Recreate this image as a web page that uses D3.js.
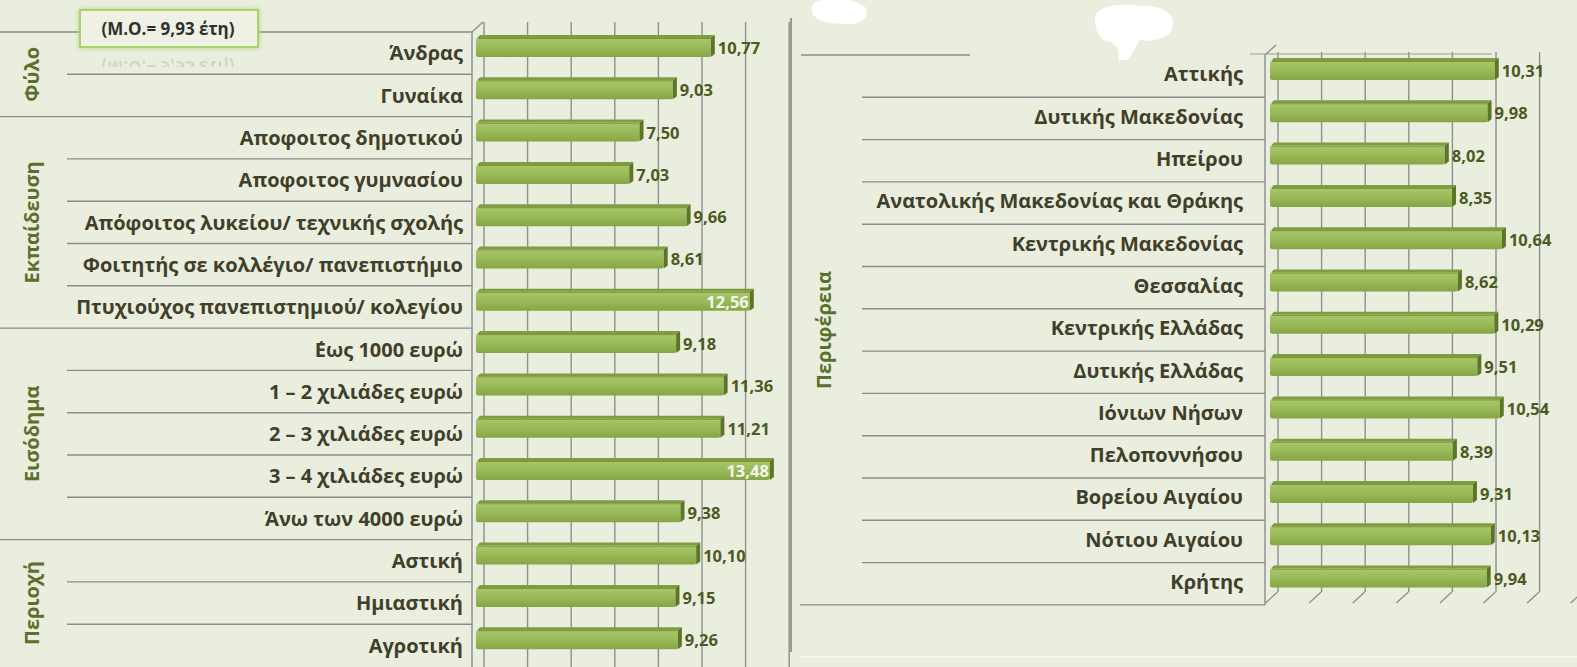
<!DOCTYPE html>
<html><head><meta charset="utf-8">
<script src="https://cdn.jsdelivr.net/npm/d3@7"></script>
<style>
html,body{margin:0;padding:0;background:#eaeede;}
svg{display:block;}
</style></head>
<body>
<svg id="chart" width="1577" height="667"></svg>
<script>
// ---------------- DATA ----------------
const leftCategories = [
  "Άνδρας","Γυναίκα",
  "Αποφοιτος δημοτικού","Αποφοιτος γυμνασίου","Απόφοιτος λυκείου/ τεχνικής σχολής",
  "Φοιτητής σε κολλέγιο/ πανεπιστήμιο","Πτυχιούχος πανεπιστημιού/ κολεγίου",
  "΄Εως 1000 ευρώ","1 – 2 χιλιάδες ευρώ","2 – 3 χιλιάδες ευρώ","3 – 4 χιλιάδες ευρώ","Άνω των 4000 ευρώ",
  "Αστική","Ημιαστική","Αγροτική"
];
const leftValues = [10.77, 9.03, 7.50, 7.03, 9.66, 8.61, 12.56, 9.18, 11.36, 11.21, 13.48, 9.38, 10.10, 9.15, 9.26];
const leftGroupNames = ["Φύλο","Εκπαίδευση","Εισόδημα","Περιοχή"];
const leftGroupSizes = [2, 5, 5, 3];

const rightCategories = [
  "Αττικής","Δυτικής Μακεδονίας","Ηπείρου","Ανατολικής Μακεδονίας και Θράκης",
  "Κεντρικής Μακεδονίας","Θεσσαλίας","Κεντρικής Ελλάδας","Δυτικής Ελλάδας",
  "Ιόνιων Νήσων ","Πελοποννήσου","Βορείου Αιγαίου","Νότιου Αιγαίου","Κρήτης"
];
const rightValues = [10.31, 9.98, 8.02, 8.35, 10.64, 8.62, 10.29, 9.51, 10.54, 8.39, 9.31, 10.13, 9.94];
const rightGroupName = "Περιφέρεια";

const xTicks = [0, 2, 4, 6, 8, 10, 12, 14];
const meanText = "(Μ.Ο.= 9,93 έτη)";
const insideThreshold = 12;

// ---------------- SETUP ----------------
const svg = d3.select("#chart");
const FONT = "'Open Sans', 'Noto Sans', sans-serif";
const fmt = v => d3.format(".2f")(v).replace(".", ",");

const defs = svg.append("defs");
const grad = defs.append("linearGradient").attr("id","barGrad").attr("x1",0).attr("y1",0).attr("x2",0).attr("y2",1);
grad.append("stop").attr("offset","0%").attr("stop-color","#a9c76b");
grad.append("stop").attr("offset","55%").attr("stop-color","#98b857");
grad.append("stop").attr("offset","100%").attr("stop-color","#86a545");
const glow = defs.append("filter").attr("id","glow").attr("x","-20%").attr("y","-40%").attr("width","140%").attr("height","180%");
glow.append("feGaussianBlur").attr("in","SourceAlpha").attr("stdDeviation",2.5).attr("result","b");
glow.append("feFlood").attr("flood-color","#9fd15a").attr("flood-opacity",0.8);
glow.append("feComposite").attr("in2","b").attr("operator","in").attr("result","g");
const gm = glow.append("feMerge"); gm.append("feMergeNode").attr("in","g"); gm.append("feMergeNode").attr("in","SourceGraphic");
const clipR = defs.append("clipPath").attr("id","reflClip");
clipR.append("rect").attr("x",80).attr("y",56).attr("width",180).attr("height",11);

svg.append("rect").attr("width",1577).attr("height",667).attr("fill","#eaeede");

function drawPanel(o) {
  const g = svg.append("g");
  const y = d3.scaleBand().domain(o.categories.map((d,i)=>i)).range([o.top, o.top + o.rowH*o.categories.length]).paddingInner(0).paddingOuter(0);
  const x = d3.scaleLinear().domain([0,14]).range([o.x0, o.x0 + 14*21.8]);
  const depthX = 7.5;

  // gridlines (back wall) via axis
  const grid = g.append("g")
    .call(d3.axisBottom(x).tickValues(xTicks).tickSize(o.gridBottom - o.gridTop).tickFormat(""));
  grid.attr("transform",`translate(${depthX},${o.gridTop})`);
  grid.select(".domain").remove();
  grid.selectAll(".tick line").attr("stroke","#8f8f8f").attr("stroke-width",1.4);
  if (o.floor) {
    g.selectAll(".floor").data(xTicks).join("line")
      .attr("x1",d=>x(d)+depthX).attr("y1",o.gridBottom)
      .attr("x2",d=>x(d)+depthX-12).attr("y2",o.gridBottom+11)
      .attr("stroke","#8f8f8f").attr("stroke-width",1.3);
  }

  // row separators
  const n = o.categories.length;
  const bounds = [];
  let idx = 0;
  o.groupSizes.forEach((s)=>{ bounds.push({i:idx, group:true}); for (let k=1;k<s;k++) bounds.push({i:idx+k, group:false}); idx+=s; });
  if (o.drawBottom) bounds.push({i:n, group:true});
  bounds.forEach(b=>{
    if (o.skipTop && b.i===0) return;
    const yy = b.i===n ? y.range()[1] : y(b.i);
    g.append("line").attr("x1", b.group ? o.groupX : o.rowX).attr("x2", o.wallX)
      .attr("y1",yy).attr("y2",yy).attr("stroke","#8c8c8c").attr("stroke-width",1.4);
  });

  // wall
  g.append("line").attr("x1",o.wallX).attr("x2",o.wallX).attr("y1",o.top).attr("y2",o.wallBottom)
    .attr("stroke","#8c8c8c").attr("stroke-width",1.4);
  g.append("line").attr("x1",o.wallX).attr("y1",o.top).attr("x2",o.wallX+11).attr("y2",o.top-10)
    .attr("stroke","#8c8c8c").attr("stroke-width",1.3);

  // group labels
  let start = 0;
  o.groupNames.forEach((name,gi)=>{
    const s = o.groupSizes[gi];
    const cy = (y(start) + (start+s>=n ? y.range()[1] : y(start+s)))/2;
    g.append("text").attr("transform",`translate(${o.groupLabelX},${cy}) rotate(-90)`)
      .attr("text-anchor","middle").attr("dominant-baseline","middle")
      .attr("font-family",FONT).attr("font-weight",700).attr("font-size",20)
      .attr("fill","#5b702c").text(name);
    start += s;
  });

  // category labels
  g.selectAll(".cat").data(o.categories).join("text")
    .attr("x",o.labelRight).attr("y",(d,i)=>y(i)+y.bandwidth()/2+o.labelDy)
    .attr("text-anchor","end").attr("dominant-baseline","middle")
    .attr("font-family",FONT).attr("font-weight",700).attr("font-size",o.labelSize)
    .attr("fill","#3f3f2a").text(d=>d);

  // bars
  const bh = 19, dx = 4, dy = 3;
  const bars = g.selectAll(".bar").data(o.values).join("g");
  bars.append("path").attr("d",(d,i)=>{
    const x0=x(0), x1=x(d), yt=y(i)+6;
    return `M${x0+1},${yt} L${x0+dx},${yt-dy} L${x1+dx},${yt-dy} L${x1},${yt} Z`;
  }).attr("fill","#7f9c41");
  bars.append("rect").attr("x",x(0)).attr("y",(d,i)=>y(i)+6).attr("width",d=>x(d)-x(0)).attr("height",bh)
    .attr("rx",2).attr("fill","url(#barGrad)");
  bars.append("line").attr("x1",x(0)+2).attr("x2",d=>x(d)).attr("y1",(d,i)=>y(i)+6.5).attr("y2",(d,i)=>y(i)+6.5)
    .attr("stroke","#789539").attr("stroke-width",1);
  bars.append("path").attr("d",(d,i)=>{
    const x1=x(d), yt=y(i)+6;
    return `M${x1},${yt} L${x1+dx},${yt-dy} L${x1+dx},${yt+bh-dy} L${x1},${yt+bh} Z`;
  }).attr("fill","#5c7628");

  // value labels
  bars.append("text")
    .attr("x",d=> d>insideThreshold ? x(d)-1 : x(d)+dx+3)
    .attr("y",(d,i)=>y(i)+6+bh/2+2)
    .attr("text-anchor",d=> d>insideThreshold ? "end" : "start")
    .attr("dominant-baseline","middle")
    .attr("font-family",FONT).attr("font-weight",700).attr("font-size",16.5)
    .attr("fill",d=> d>insideThreshold ? "#f4f7ea" : "#4b5a22")
    .text(d=>fmt(d));
}

// ---------------- LEFT PANEL ----------------
drawPanel({
  categories:leftCategories, values:leftValues, groupNames:leftGroupNames, groupSizes:leftGroupSizes,
  top:32, rowH:42.3, x0:476, gridTop:22, gridBottom:667, floor:false, drawBottom:false,
  groupX:0, rowX:67, wallX:472, wallBottom:667, groupLabelX:34, labelRight:463, labelSize:20, labelDy:2
});

// ---------------- RIGHT PANEL ----------------
drawPanel({
  categories:rightCategories, values:rightValues, groupNames:[rightGroupName], groupSizes:[rightCategories.length],
  top:55, rowH:42.3, x0:1270, gridTop:52, gridBottom:592, floor:true, skipTop:true, drawBottom:true,
  groupX:800, rowX:862, wallX:1265, wallBottom:605, groupLabelX:826, labelRight:1243, labelSize:20, labelDy:0
});
// right panel top lines
svg.append("line").attr("x1",801).attr("x2",970).attr("y1",55).attr("y2",55).attr("stroke","#8c8c8c").attr("stroke-width",1.4);
svg.append("line").attr("x1",1250).attr("x2",1492).attr("y1",54).attr("y2",54).attr("stroke","#9a9a9a").attr("stroke-width",1.2);

// panel separator
svg.append("line").attr("x1",791).attr("x2",791).attr("y1",18).attr("y2",652).attr("stroke","#9a9a9a").attr("stroke-width",2);
svg.append("line").attr("x1",800).attr("x2",1577).attr("y1",657).attr("y2",657).attr("stroke","#f6f8f0").attr("stroke-width",2);

// white blobs (redactions in the original)
svg.append("path").attr("d","M812,6 C815,-4 850,-4 864,6 C872,14 862,26 845,24 C830,24 808,20 812,6 Z").attr("fill","#ffffff");
svg.append("path").attr("d","M1095,22 C1092,6 1120,2 1140,6 C1160,4 1178,14 1172,28 C1168,40 1150,42 1140,40 L1128,60 L1118,60 C1120,52 1118,46 1110,42 C1098,40 1096,30 1095,22 Z").attr("fill","#ffffff");

// mean box
const mb = svg.append("g");
mb.append("rect").attr("x",80).attr("y",10).attr("width",178).attr("height",37)
  .attr("fill","#eef1e3").attr("stroke","#a8d26c").attr("stroke-width",2).attr("filter","url(#glow)");
mb.append("text").attr("x",168).attr("y",30).attr("text-anchor","middle").attr("dominant-baseline","middle")
  .attr("font-family",FONT).attr("font-weight",700).attr("font-size",17).attr("fill","#2f2f2f").text(meanText);
mb.append("g").attr("clip-path","url(#reflClip)").append("text")
  .attr("transform","translate(168,96) scale(1,-1)").attr("text-anchor","middle").attr("y",30)
  .attr("dominant-baseline","middle").attr("font-family",FONT).attr("font-weight",700).attr("font-size",17)
  .attr("fill","#2f2f2f").attr("opacity",0.12).text(meanText);
</script>
</body></html>
